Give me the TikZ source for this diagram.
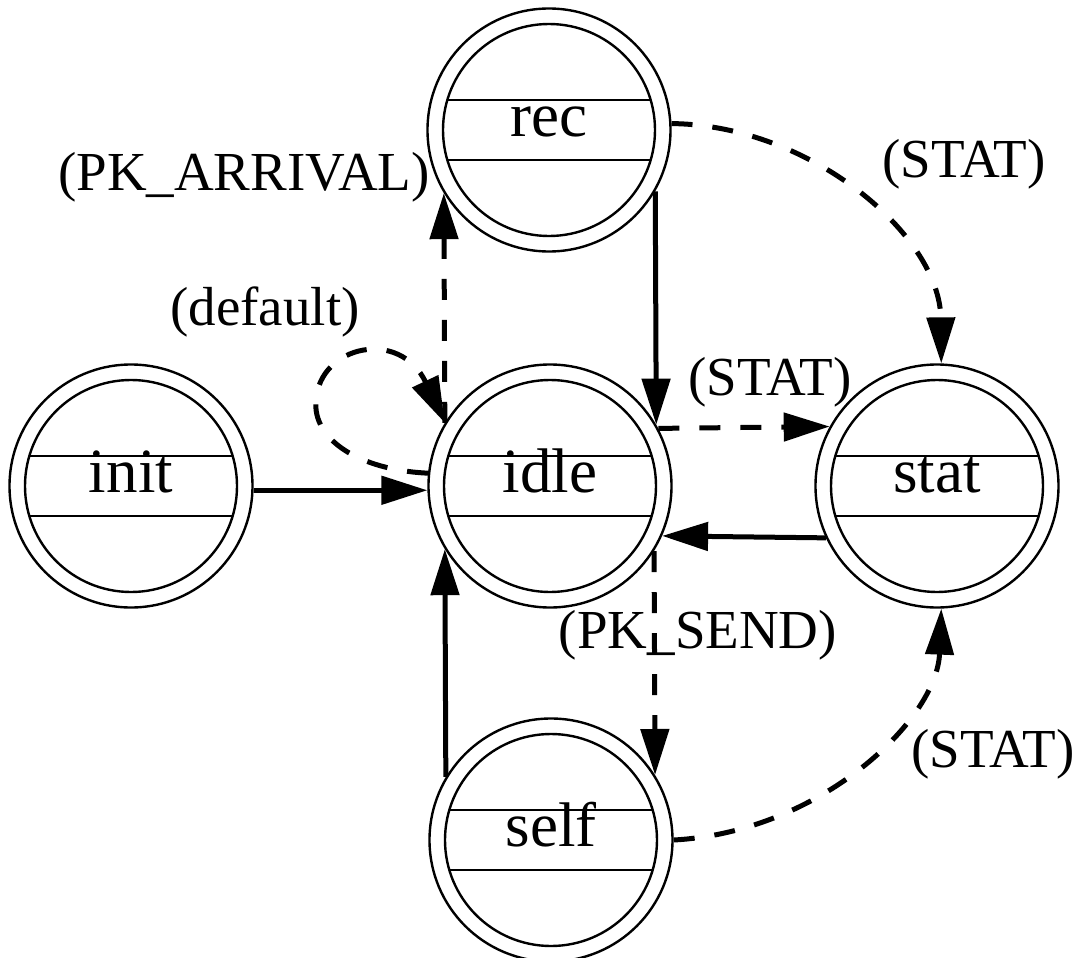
\documentclass[tikz,border=0pt]{standalone}
\usepackage{fontspec}
\setmainfont{Liberation Serif}
\usetikzlibrary{arrows.meta}
\begin{document}
\begin{tikzpicture}[x=1pt,y=-1pt,
  state/.style={circle, draw, line width=2.4pt, minimum size=243pt, inner sep=0pt,
    font=\fontsize{63}{72}\selectfont, text height=24pt, text depth=12pt},
  inner/.style={line width=2.4pt},
  lbl/.style={anchor=base, font=\fontsize{55}{64}\selectfont, inner sep=0pt},
  tr/.style={line width=5pt, -{Triangle[length=46pt,width=28pt]}},
  dtr/.style={tr, dash pattern=on 21pt off 20pt}]
\useasboundingbox (0,0) rectangle (1082,958);
\node[state] (rec)  at (549,130) {rec};
\node[state] (init) at (131,486) {init};
\node[state] (idle) at (550,486) {idle};
\node[state] (stat) at (937,486) {stat};
\node[state] (self) at (551,840) {self};
\foreach \n in {rec,init,idle,stat,self}{
  \draw[inner] (\n.center) circle[radius=106pt];
  \draw[inner] ([shift={(-101.7pt,30pt)}]\n.center) -- ([shift={(101.7pt,30pt)}]\n.center);
  \draw[inner] ([shift={(-101.7pt,-30pt)}]\n.center) -- ([shift={(101.7pt,-30pt)}]\n.center);
}
% connectors
\draw[tr] (init.-2.5) -- (idle.182.5);
\draw[tr] (rec.-30.6) -- (idle.30.6);
\draw[dtr] (idle.149.4) -- (rec.-149.4);
\draw[tr] (self.149.4) -- (idle.-149.4);
\draw[dtr] (idle.-32.4) -- (self.32.4);
\draw[dtr] (idle.28.9) -- (stat.151.1);
\draw[tr] (stat.-155.3) -- (idle.-24.7);
\draw[dtr] (rec.3) .. controls (810,125) and (940,235) .. (stat.88);
\draw[dtr] (self.east) .. controls (820,832) and (937,720) .. (stat.-88);
\draw[dtr] (idle.174) .. controls (360,470) and (312,440) .. (316,400)
  .. controls (320,345) and (400,328) .. (idle.149.4);
% labels
\node[lbl] (lpk)   at (244,190) {(PK\_ARRIVAL)};
\node[lbl] (ldef)  at (265,325) {(default)};
\node[lbl] (ls1)   at (964,177) {(STAT)};
\node[lbl] (ls2)   at (770,395) {(STAT)};
\node[lbl] (lsend) at (698,648) {(PK\_SEND)};
\node[lbl] (ls3)   at (993,767) {(STAT)};
\end{tikzpicture}
\end{document}
